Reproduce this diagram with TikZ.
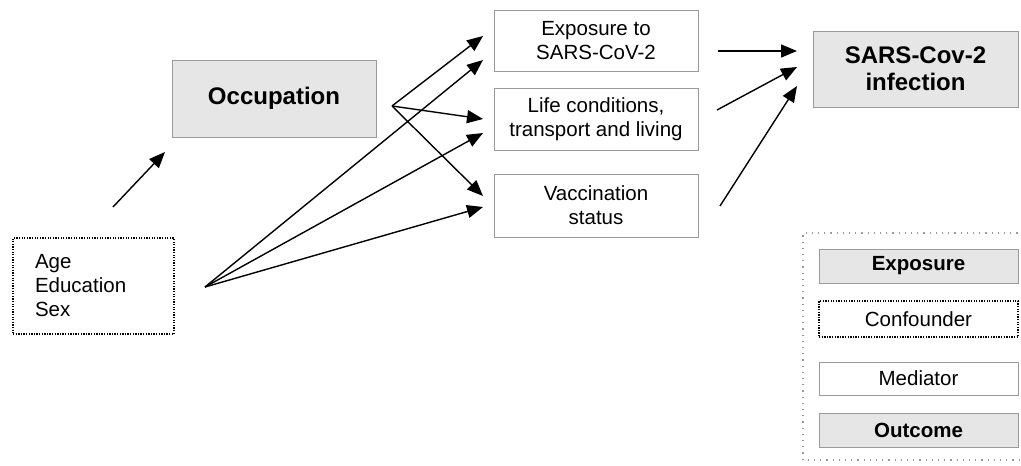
\documentclass[tikz,border=0pt]{standalone}
\usepackage{fontspec}
\setmainfont{Liberation Sans}
\usetikzlibrary{arrows.meta}
\definecolor{boxfill}{HTML}{E6E6E6}
\definecolor{boxline}{HTML}{9A9A9A}
\tikzset{
  base/.style={rectangle, inner sep=0pt, align=center, font=\fontsize{20.5}{24}\selectfont},
  gbox/.style={base, draw=boxline, line width=1pt, fill=boxfill},
  wbox/.style={base, draw=boxline, line width=1pt, fill=white},
  cbox/.style={base, draw=black, line width=1.3pt, dash pattern=on 1.3pt off 1.3pt},
  bigbold/.style={font=\fontsize{24}{27}\selectfont\bfseries},
  legbold/.style={font=\fontsize{20.5}{24}\selectfont\bfseries},
  arr/.style={line width=1.4pt, -{Triangle[length=16pt,width=13pt]}},
}
\begin{document}
\begin{tikzpicture}[x=1pt,y=-1pt]
\useasboundingbox (0,0) rectangle (1021,466);
% main boxes
\node[gbox, bigbold, minimum width=204pt, minimum height=77pt] (occ) at (274,98.5) {Occupation};
\node[cbox, minimum width=161pt, minimum height=96pt, text width=117pt, align=left, inner xsep=22pt] (conf) at (93.5,286) {Age\\Education\\Sex};
\node[wbox, minimum width=204pt, minimum height=61pt] (exp) at (596,40.5) {Exposure to\\SARS-CoV-2};
\node[wbox, minimum width=204pt, minimum height=62pt] (life) at (596,119) {Life conditions,\\transport and living};
\node[wbox, minimum width=204pt, minimum height=63pt] (vac) at (596,205.5) {Vaccination\\status};
\node[gbox, bigbold, minimum width=205pt, minimum height=76pt] (out) at (915.5,69) {SARS-Cov-2\\infection};
% legend
\draw[boxline, line width=1.2pt, dash pattern=on 1.2pt off 5pt] (1030,233) -- (803,233) -- (803,460) -- (1030,460);
\node[gbox, legbold, minimum width=199pt, minimum height=34pt] (lexp) at (918.5,266) {Exposure};
\node[cbox, minimum width=199pt, minimum height=36pt] (lconf) at (918.5,319) {Confounder};
\node[wbox, minimum width=199pt, minimum height=33pt] (lmed) at (918.5,378.5) {Mediator};
\node[gbox, legbold, minimum width=199pt, minimum height=34pt] (lout) at (918.5,430) {Outcome};
% arrow end points
\coordinate (c1) at (113,207);
\coordinate (c2) at (165,152);
\coordinate (f1) at (205,287);
\coordinate (f2) at (392,106);
\coordinate (t1) at (483,36);
\coordinate (t2) at (483,60);
\coordinate (t3) at (483,119);
\coordinate (t4) at (483,133);
\coordinate (t5) at (483,196);
\coordinate (t6) at (483,207);
\coordinate (s1) at (718,51);
\coordinate (s2) at (717,110);
\coordinate (s3) at (720,206);
\coordinate (e1) at (797,51);
\coordinate (e2) at (797,67);
\coordinate (e3) at (797,86);
% arrows
\draw[arr] (c1) -- (c2);
\draw[arr] (f1) -- (t2);
\draw[arr] (f1) -- (t4);
\draw[arr] (f1) -- (t6);
\draw[arr] (f2) -- (t1);
\draw[arr] (f2) -- (t3);
\draw[arr] (f2) -- (t5);
\draw[arr] (s1) -- (e1);
\draw[arr] (s2) -- (e2);
\draw[arr] (s3) -- (e3);
\end{tikzpicture}
\end{document}
